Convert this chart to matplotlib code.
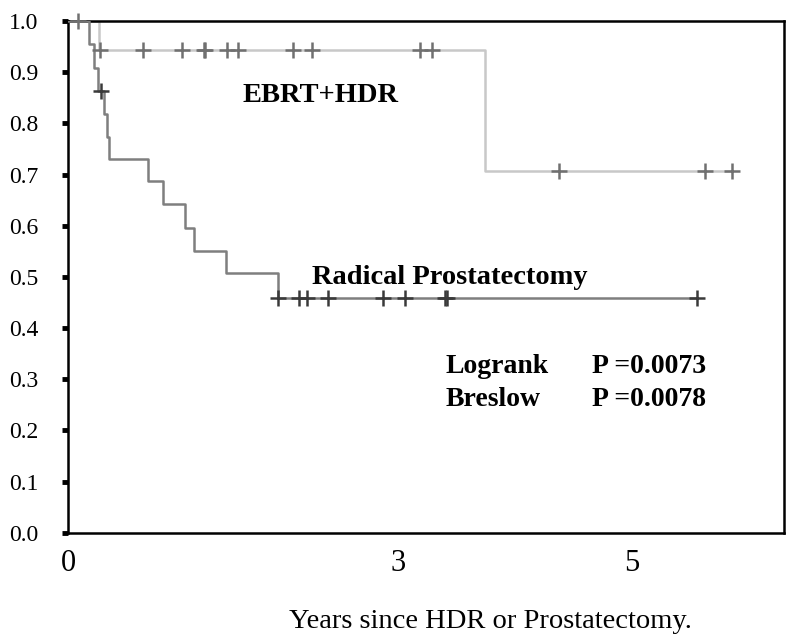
import matplotlib.pyplot as plt

plt.rcParams['font.family'] = ['Liberation Serif', 'DejaVu Serif']

# EBRT+HDR curve (years, survival)
ebrt_t = [0, 0.28, 3.79, 6.04]
ebrt_s = [1.0, 0.944, 0.708, 0.708]
ebrt_cens_t = [0.09, 0.29, 0.68, 1.04, 1.24, 1.25, 1.45, 1.55, 2.05, 2.22, 3.20, 3.31,
               4.46, 5.79, 6.04]
ebrt_cens_s = [1.0, 0.944, 0.944, 0.944, 0.944, 0.944, 0.944, 0.944, 0.944, 0.944, 0.944, 0.944,
               0.708, 0.708, 0.708]

# Radical Prostatectomy curve
rp_t = [0, 0.19, 0.24, 0.27, 0.33, 0.35, 0.37, 0.73, 0.86, 1.06, 1.15, 1.44, 1.91, 5.72]
rp_s = [1.0, 0.955, 0.909, 0.864, 0.818, 0.773, 0.731, 0.687, 0.642, 0.595, 0.551, 0.507,
        0.458, 0.458]
rp_cens_t = [0.30, 1.91, 2.10, 2.17, 2.36, 2.86, 3.06, 3.43, 3.45, 5.72]
rp_cens_s = [0.864, 0.458, 0.458, 0.458, 0.458, 0.458, 0.458, 0.458, 0.458, 0.458]

yticks = [0.0, 0.1, 0.2, 0.3, 0.4, 0.5, 0.6, 0.7, 0.8, 0.9, 1.0]
xtick_pos = [0, 3, 5.13]
xtick_labels = ['0', '3', '5']

fig = plt.figure(figsize=(7.89, 6.41), dpi=100)
ax = fig.add_axes([0.0862, 0.169, 0.9075, 0.798])

ax.step(ebrt_t, ebrt_s, where='post', color='#c8c8c8', lw=1.8, zorder=2)
ax.step(rp_t, rp_s, where='post', color='#7f7f7f', lw=1.8, zorder=3)
ax.plot(ebrt_cens_t, ebrt_cens_s, ls='none', marker='+', ms=11, mew=1.8,
        color='#707070', zorder=4, clip_on=False)
ax.plot(rp_cens_t, rp_cens_s, ls='none', marker='+', ms=11, mew=1.8,
        color='#3a3a3a', zorder=4, clip_on=False)

ax.text(1.59, 0.841, 'EBRT+HDR', fontsize=20.5, fontweight='bold', va='baseline')
ax.text(2.22, 0.487, 'Radical Prostatectomy', fontsize=20.5, fontweight='bold', va='baseline')
ax.text(3.43, 0.312, 'Logrank', fontsize=20, fontweight='bold', va='baseline')
ax.text(4.76, 0.312, 'P =0.0073', fontsize=20, fontweight='bold', va='baseline')
ax.text(3.43, 0.247, 'Breslow', fontsize=20, fontweight='bold', va='baseline')
ax.text(4.76, 0.247, 'P =0.0078', fontsize=20, fontweight='bold', va='baseline')

ax.set_xlim(0, 6.51)
ax.set_ylim(0, 1.0)
ax.set_yticks(yticks)
ax.set_yticklabels([f'{v:.1f}' for v in yticks])
ax.set_xticks(xtick_pos)
ax.set_xticklabels(xtick_labels)
ax.tick_params(axis='y', direction='out', length=4, width=3.5, labelsize=17, pad=17.5)
ax.tick_params(axis='x', length=0, labelsize=22, pad=12)
for s in ax.spines.values():
    s.set_linewidth(1.8)
    s.set_color('black')

fig.text(0.6217, 0.0203, 'Years since HDR or Prostatectomy.', fontsize=20.5,
         ha='center', va='baseline')

fig.savefig('out.png', dpi=100)
